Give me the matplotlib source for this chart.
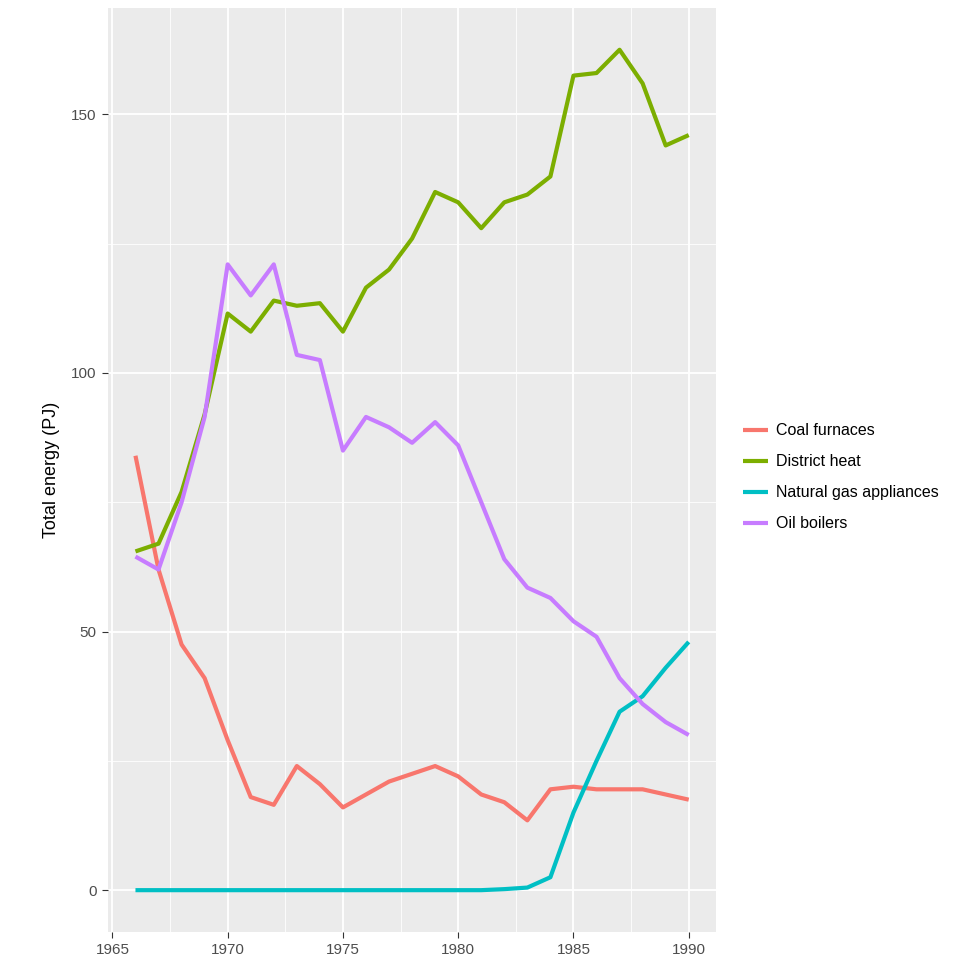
import matplotlib
matplotlib.use('Agg')
import matplotlib.pyplot as plt
from matplotlib.ticker import MultipleLocator

plt.rcParams['font.family'] = ['Liberation Sans', 'DejaVu Sans']

# Data (PJ per year)
years = list(range(1966, 1991))

coal_furnaces = [84, 62, 47.5, 41, 29, 18, 16.5, 24, 20.5, 16,
                 18.5, 21, 22.5, 24, 22, 18.5, 17, 13.5, 19.5, 20,
                 19.5, 19.5, 19.5, 18.5, 17.5]
district_heat = [65.5, 67, 77, 92, 111.5, 108, 114, 113, 113.5, 108,
                 116.5, 120, 126, 135, 133, 128, 133, 134.5, 138, 157.5,
                 158, 162.5, 156, 144, 146]
natural_gas = [0, 0, 0, 0, 0, 0, 0, 0, 0, 0,
               0, 0, 0, 0, 0, 0, 0.2, 0.5, 2.5, 15,
               25, 34.5, 37.5, 43, 48]
oil_boilers = [64.5, 62, 75, 91.5, 121, 115, 121, 103.5, 102.5, 85,
               91.5, 89.5, 86.5, 90.5, 86, 75, 64, 58.5, 56.5, 52,
               49, 41, 36, 32.5, 30]

series_names = ['Coal furnaces', 'District heat', 'Natural gas appliances', 'Oil boilers']
series_values = [coal_furnaces, district_heat, natural_gas, oil_boilers]
colors = ['#F8766D', '#7CAE00', '#00BFC4', '#C77CFF']

x_ticks = [1965, 1970, 1975, 1980, 1985, 1990]
y_ticks = [0, 50, 100, 150]

fig = plt.figure(figsize=(9.8, 9.68), dpi=100)
ax = fig.add_axes([0.110, 0.037, 0.621, 0.955])

ax.set_facecolor('#EBEBEB')
for sp in ax.spines.values():
    sp.set_visible(False)

for name, vals, c in zip(series_names, series_values, colors):
    ax.plot(years, vals, color=c, lw=3.0, label=name, solid_capstyle='butt')

# ggplot-like expansion of 5%
ymin, ymax = 0, max(max(v) for v in series_values)
yr = ymax - ymin
ax.set_ylim(ymin - 0.05 * yr, ymax + 0.05 * yr)
xr = years[-1] - years[0]
ax.set_xlim(years[0] - 0.05 * xr, years[-1] + 0.05 * xr)

ax.set_xticks(x_ticks)
ax.set_yticks(y_ticks)
ax.xaxis.set_minor_locator(MultipleLocator(2.5))
ax.yaxis.set_minor_locator(MultipleLocator(25))
ax.grid(which='major', color='white', lw=1.3)
ax.grid(which='minor', color='white', lw=0.6)
ax.set_axisbelow(True)

ax.tick_params(which='major', length=4, width=0.8, color='#333333',
               labelsize=11, labelcolor='#4D4D4D', pad=4)
ax.tick_params(which='minor', length=0)

ax.set_ylabel('Total energy (PJ)', fontsize=13, color='black', labelpad=8)

handles, labels = ax.get_legend_handles_labels()
fig.legend(handles, labels, loc='center left', bbox_to_anchor=(0.758, 0.507),
           bbox_transform=fig.transFigure, frameon=False, fontsize=11.5,
           handlelength=1.6, handletextpad=0.5, labelspacing=1.0,
           borderaxespad=0, borderpad=0)

fig.savefig('out.png', dpi=100)
